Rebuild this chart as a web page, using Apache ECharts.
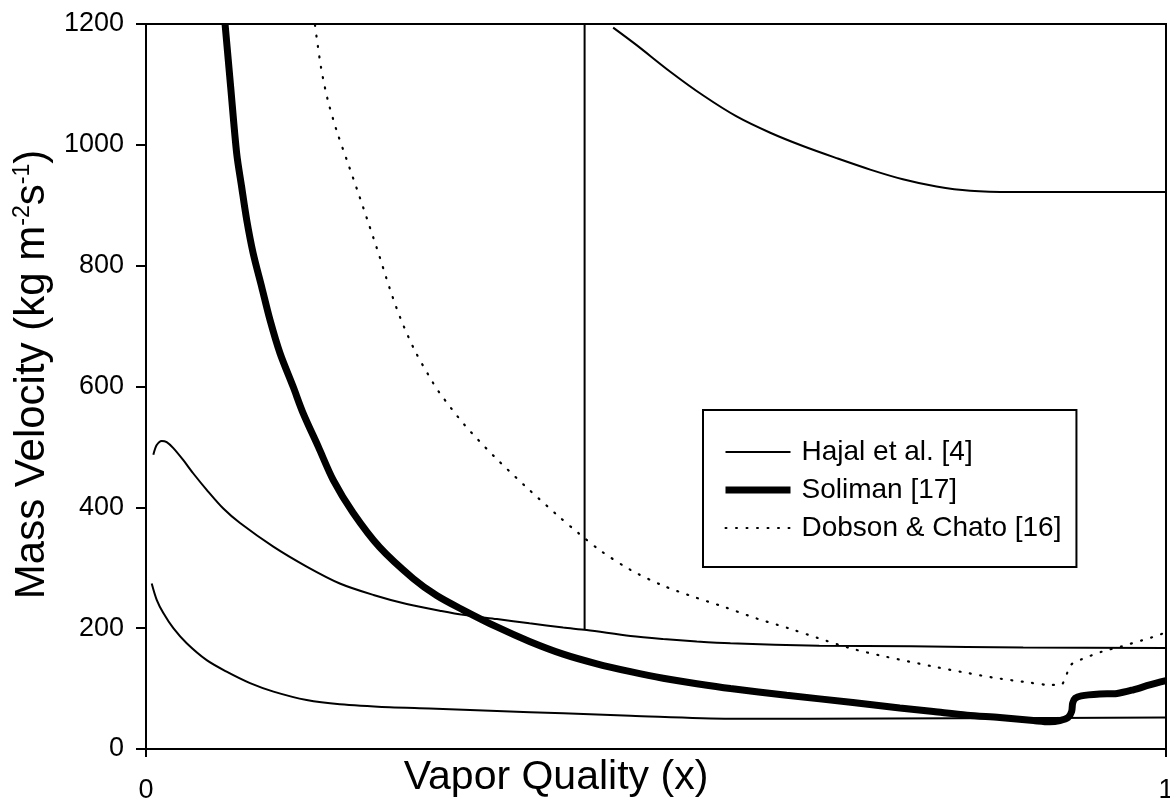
<!DOCTYPE html>
<html>
<head>
<meta charset="utf-8">
<script src="https://cdn.jsdelivr.net/npm/echarts@6/dist/echarts.min.js"></script>
<style>
  html, body { margin: 0; padding: 0; background: #fff; }
  #flow-map { width: 1170px; height: 800px; }
</style>
</head>
<body>
<div id="flow-map"></div>
<script>
  // [vapor quality, mass velocity]
  const hajalUpper = [
    [0.0072, 487], [0.0105, 503], [0.0154, 510], [0.0203, 508], [0.0268, 498], [0.0366, 478],
    [0.0464, 456], [0.0595, 429], [0.0758, 398], [0.0922, 374], [0.1248, 335], [0.1575, 302],
    [0.19, 274], [0.223, 255], [0.2556, 240], [0.288, 229], [0.311, 222], [0.344, 215],
    [0.376, 208], [0.409, 201], [0.432, 197], [0.475, 187], [0.507, 182], [0.54, 178],
    [0.573, 175], [0.66, 171], [0.75, 170], [0.86, 168], [1.0, 167]
  ];
  const hajalLower = [
    [0.0056, 274], [0.0105, 247], [0.017, 225], [0.0268, 200], [0.0399, 175], [0.0595, 147],
    [0.079, 128], [0.102, 109], [0.125, 95], [0.1575, 81], [0.19, 74], [0.239, 69],
    [0.278, 67], [0.344, 63], [0.409, 59], [0.475, 55], [0.573, 50], [0.65, 50],
    [0.8, 51], [1.0, 52]
  ];
  const hajalVertical = [[0.43, 197], [0.43, 1200]];
  const hajalMist = [
    [0.458, 1194], [0.481, 1165], [0.514, 1121], [0.546, 1082], [0.579, 1047], [0.612, 1020],
    [0.644, 998], [0.677, 978], [0.71, 959], [0.742, 943], [0.775, 931], [0.808, 924],
    [0.85, 922], [1.0, 922]
  ];
  const soliman = [
    [0.0775, 1200], [0.083, 1096], [0.0889, 986], [0.0938, 930], [0.0987, 876], [0.105, 821],
    [0.1134, 765], [0.1216, 710], [0.1314, 655], [0.1444, 599], [0.154, 556], [0.169, 500],
    [0.1836, 445], [0.203, 391], [0.229, 334], [0.262, 282], [0.285, 254], [0.311, 230],
    [0.344, 202], [0.376, 178], [0.409, 157], [0.442, 141], [0.475, 128], [0.507, 117],
    [0.54, 108], [0.573, 100], [0.628, 89], [0.693, 77], [0.739, 68], [0.772, 62],
    [0.805, 56], [0.837, 52], [0.87, 47], [0.886, 45], [0.896, 47], [0.904, 52],
    [0.9075, 62], [0.9085, 76], [0.911, 84], [0.917, 88], [0.935, 91], [0.952, 92],
    [0.968, 98], [0.984, 106], [1.0, 113]
  ];
  const dobsonChato = [
    [0.1657, 1198], [0.1716, 1128], [0.1781, 1075], [0.187, 1023], [0.1977, 971], [0.2082, 920],
    [0.2186, 868], [0.2288, 816], [0.2386, 764], [0.2497, 712], [0.2637, 659], [0.2811, 607],
    [0.288, 589], [0.312, 537], [0.3415, 484], [0.3725, 434], [0.4033, 387], [0.4242, 357],
    [0.445, 329], [0.4755, 296], [0.506, 271], [0.5366, 252], [0.567, 235], [0.5987, 216],
    [0.6297, 200], [0.66, 183], [0.69, 167], [0.722, 154], [0.7735, 136], [0.8046, 126],
    [0.835, 117], [0.866, 110], [0.886, 106], [0.8968, 106], [0.902, 121], [0.9066, 139],
    [0.9167, 148], [0.937, 161], [0.9566, 170], [0.9768, 180], [0.9866, 185], [1.0, 193]
  ];
  const legendNames = ['Hajal et al. [4]', 'Soliman [17]', 'Dobson & Chato [16]'];
  const yTicks = [0, 200, 400, 600, 800, 1000, 1200];

  const font = 'Liberation Sans, Arial, sans-serif';
  const black = '#000';

  const hajalLine = (data) => ({
    name: legendNames[0],
    type: 'line',
    data: data,
    smooth: 0.3,
    symbol: 'none',
    lineStyle: { color: black, width: 2 },
    itemStyle: { color: black },
  });

  const option = {
    animation: false,
    backgroundColor: '#fff',
    grid: {
      left: 146,
      right: 4,
      top: 24,
      bottom: 51,
      outerBoundsMode: 'none',
      show: true,
      borderColor: black,
      borderWidth: 2,
    },
    legend: {
      data: [
        { name: legendNames[0], lineStyle: { width: 2 } },
        { name: legendNames[1], lineStyle: { width: 7 } },
        { name: legendNames[2], lineStyle: { width: 2 } },
      ],
      orient: 'vertical',
      left: 703,
      top: 410,
      padding: [28, 15, 25, 19],
      itemWidth: 65,
      itemHeight: 20,
      itemGap: 10,
      itemStyle: { opacity: 0 },
      borderColor: black,
      borderWidth: 2,
      textStyle: {
        fontFamily: font,
        fontSize: 28,
        lineHeight: 28,
        color: black,
        padding: [0, 0, 0, 6],
      },
    },
    xAxis: {
      type: 'value',
      min: 0,
      max: 1,
      interval: 1,
      name: 'Vapor Quality (x)',
      nameLocation: 'middle',
      nameGap: 8,
      nameMoveOverlap: false,
      nameTextStyle: { fontFamily: font, fontSize: 41, color: black, padding: [0, 200, 0, 0] },
      axisLine: { lineStyle: { color: black, width: 2 } },
      axisTick: { show: true, length: 8, lineStyle: { color: black, width: 2 } },
      axisLabel: { fontFamily: font, fontSize: 27, color: black, margin: 28 },
      splitLine: { show: false },
    },
    yAxis: {
      type: 'value',
      min: yTicks[0],
      max: yTicks[yTicks.length - 1],
      interval: 200,
      name: 'Mass Velocity (kg m{sup|-2}s{sup|-1})',
      nameLocation: 'middle',
      nameGap: 76,
      nameTextStyle: {
        fontFamily: font,
        fontSize: 42,
        color: black,
        padding: [0, 0, 0, 24],
        rich: {
          sup: { fontFamily: font, fontSize: 23, color: black, verticalAlign: 'top' },
        },
      },
      axisLine: { lineStyle: { color: black, width: 2 } },
      axisTick: { show: true, length: 10, lineStyle: { color: black, width: 2 } },
      axisLabel: {
        fontFamily: font,
        fontSize: 27,
        color: black,
        margin: 22,
        formatter: (v) => String(v),
      },
      splitLine: { show: false },
    },
    series: [
      hajalLine(hajalUpper),
      hajalLine(hajalLower),
      hajalLine(hajalVertical),
      hajalLine(hajalMist),
      {
        name: legendNames[1],
        type: 'line',
        data: soliman,
        smooth: 0.3,
        symbol: 'none',
        lineStyle: { color: black, width: 7 },
        itemStyle: { color: black },
      },
      {
        name: legendNames[2],
        type: 'line',
        data: dobsonChato,
        smooth: 0.3,
        symbol: 'none',
        lineStyle: { color: black, width: 2.2, type: [1, 9.5], cap: 'round' },
        itemStyle: { color: black },
      },
    ],
  };

  const chart = echarts.init(document.getElementById('flow-map'));
  chart.setOption(option);
</script>
</body>
</html>
